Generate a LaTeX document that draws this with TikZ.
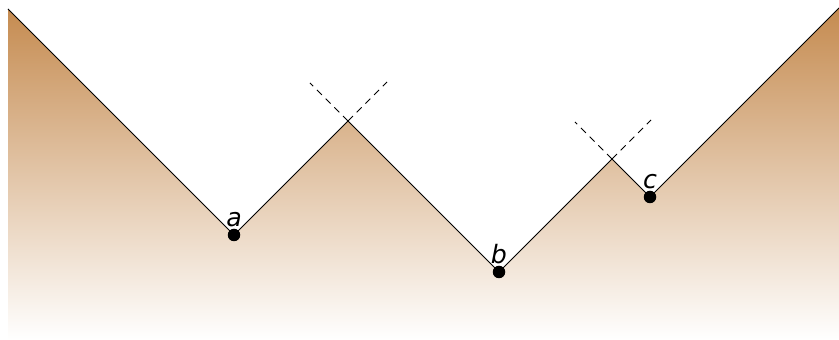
\documentclass[tikz,border=0pt]{standalone}
\usepackage{fontspec}
\setsansfont{DejaVu Sans}
\usetikzlibrary{positioning, calc}
\definecolor{Clay}{RGB}{197,139,80}

\begin{document}
\begin{tikzpicture}[x=0.02cm, y=-0.02cm,
    cone/.style={draw=black, line width=0.5pt},
    ext/.style={draw=black, line width=0.5pt, dash pattern=on 4pt off 3pt},
    event/.style={circle, fill=black, inner sep=0pt, minimum size=0.25cm},
    tag/.style={font=\sffamily\itshape\Large, inner sep=0.5pt}
]
\useasboundingbox (0,0) rectangle (839,340);

% events and corners
\coordinate (lt) at (8,9);
\coordinate (a) at (234,235);
\coordinate (p1) at (348,121);
\coordinate (b) at (499,272);
\coordinate (p2) at (612,159);
\coordinate (c) at (650,197);
\coordinate (rt) at (839,8);

% shaded past region
\fill[top color=Clay, bottom color=white]
    (lt) -- (a) -- (p1) -- (b) -- (p2) -- (c) -- (rt) -- (839,340) -- (8,340) -- cycle;

% boundary
\draw[cone] (lt) -- (a) -- (p1) -- (b) -- (p2) -- (c) -- (rt);

% continued cone edges
\coordinate (e1) at (310,83);
\coordinate (e2) at (387,82);
\coordinate (e3) at (575,122);
\coordinate (e4) at (651,120);
\draw[ext] (p1) -- (e1);
\draw[ext] (p1) -- (e2);
\draw[ext] (p2) -- (e3);
\draw[ext] (p2) -- (e4);

% points
\node[event] (na) at (a) {};
\node[event] (nb) at (b) {};
\node[event] (nc) at (c) {};
\node[tag, above=0pt of na] {a};
\node[tag, above=0pt of nb] {b};
\node[tag, above=0pt of nc] {c};

\end{tikzpicture}
\end{document}
